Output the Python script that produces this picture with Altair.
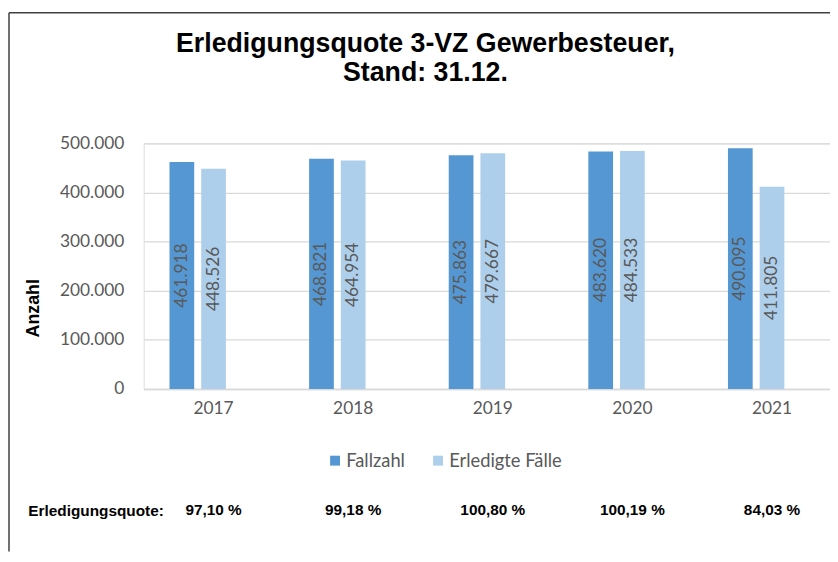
import altair as alt
import pandas as pd

# ---- data ----
years = ["2017", "2018", "2019", "2020", "2021"]
fallzahl = [461918, 468821, 475863, 483620, 490095]
erledigt = [448526, 464954, 479667, 484533, 411805]
quote = [97.10, 99.18, 100.80, 100.19, 84.03]
series = ["Fallzahl", "Erledigte Fälle"]
colors = ["#5597D3", "#AECFEC"]
y_ticks = [0, 100000, 200000, 300000, 400000, 500000]

rows = []
for y, f, e in zip(years, fallzahl, erledigt):
    rows.append({"Jahr": y, "Serie": series[0], "Wert": f})
    rows.append({"Jahr": y, "Serie": series[1], "Wert": e})
df = pd.DataFrame(rows)
qdf = pd.DataFrame({"Jahr": years, "Quote": quote})

x_scale = alt.Scale(domain=years, range=[0, 705], paddingInner=0.319, paddingOuter=0.16)
xo_scale = alt.Scale(domain=series + ["(leer)"], paddingInner=0.22, paddingOuter=0.11)
y_scale = alt.Scale(domain=[0, 500000])
color_scale = alt.Scale(domain=series, range=colors)

x_axis = alt.Axis(
    title="Erledigungsquote:", titleX=-117, titleY=122.5, titleAlign="left",
    titleBaseline="middle", titleFont="Liberation Sans", titleFontSize=15.5,
    titleFontWeight="bold", titleColor="#000000",
    labelFont="Lato", labelFontSize=17.5, labelColor="#595959", labelPadding=11,
    labelAngle=0, ticks=False, domainColor="#D9D9D9", domainWidth=1.3, grid=False,
)
y_axis = alt.Axis(
    title="Anzahl", titleX=-111, titleY=166, titleAngle=270, titleAlign="center",
    titleBaseline="middle", titleFont="Liberation Sans", titleFontSize=18,
    titleFontWeight="bold", titleColor="#000000",
    values=y_ticks, format=",d", labelFont="Lato", labelFontSize=17.5,
    labelColor="#595959", labelPadding=20, ticks=False, domain=False,
    grid=True, gridColor="#D9D9D9", gridWidth=1.3,
)

base = alt.Chart(df)

bars = base.mark_bar().encode(
    x=alt.X("Jahr:N", scale=x_scale, axis=x_axis),
    xOffset=alt.XOffset("Serie:N", scale=xo_scale),
    y=alt.Y("Wert:Q", scale=y_scale, axis=y_axis),
    color=alt.Color(
        "Serie:N", scale=color_scale,
        legend=alt.Legend(
            title=None, orient="none", legendX=184, legendY=311,
            direction="horizontal", symbolType="square", symbolSize=100,
            symbolStrokeWidth=0, labelFont="Lato", labelFontSize=18.5,
            labelColor="#595959", columnPadding=24, labelOffset=2,
        ),
    ),
)

labels = base.mark_text(
    angle=270, fontSize=17.5, font="Lato", color="#595959",
    align="center", baseline="middle",
).transform_calculate(mid="datum.Wert / 2").encode(
    x=alt.X("Jahr:N", scale=x_scale, axis=x_axis),
    xOffset=alt.XOffset("Serie:N", scale=xo_scale),
    y=alt.Y("mid:Q", scale=y_scale, axis=y_axis),
    text=alt.Text("Wert:Q", format=",d"),
)

quota = alt.Chart(qdf).mark_text(
    fontSize=15.5, font="Liberation Sans", fontWeight="bold", color="#000000",
    align="center", baseline="middle",
).transform_calculate(lbl="format(datum.Quote, '.2f') + ' %'").encode(
    x=alt.X("Jahr:N", scale=x_scale, axis=x_axis),
    y=alt.value(370.5),
    text="lbl:N",
)

frame_data = alt.Data(values=[{"k": 1}])
frame_left = alt.Chart(frame_data).mark_rule(color="#404040", strokeWidth=1.5).encode(
    x=alt.value(-136), y=alt.value(-132), y2=alt.value(412)
)
frame_top = alt.Chart(frame_data).mark_rule(color="#404040", strokeWidth=1.5).encode(
    x=alt.value(-136), x2=alt.value(693), y=alt.value(-132)
)

chart = alt.layer(bars, labels, quota, frame_left, frame_top).properties(
    width=693,
    height=248,
    autosize=alt.AutoSizeParams(type="none"),
    padding={"left": 137, "top": 134, "right": 0, "bottom": 172},
    background="white",
    title=alt.TitleParams(
        text=["Erledigungsquote 3-VZ Gewerbesteuer,", "Stand: 31.12."],
        font="Liberation Sans", fontSize=27, fontWeight="bold", color="#000000",
        anchor="middle", frame="group", dx=-62, offset=-76, lineHeight=30,
    ),
).configure_view(strokeWidth=0).configure(
    locale=alt.Locale(number=alt.NumberLocale(
        decimal=",", thousands=".", grouping=[3], currency=["", " €"]
    ))
)

chart.save("out.html", embed_options={"renderer": "svg", "actions": False})
